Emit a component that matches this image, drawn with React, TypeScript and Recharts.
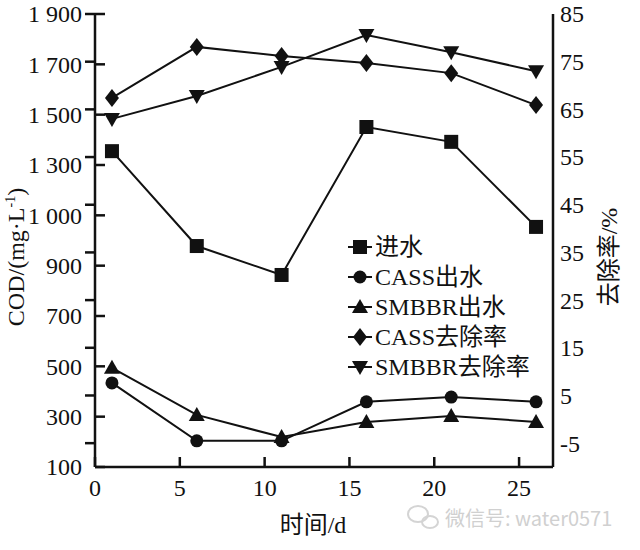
import { Legend, Line, LineChart, ReferenceLine, XAxis, YAxis } from 'recharts';

const days = [1, 6, 11, 16, 21, 26];
const influent = [1355, 978, 863, 1451, 1392, 1054];
const cassOut = [434, 204, 204, 359, 378, 359];
const smbbrOut = [494, 307, 219, 279, 303, 279];
const cassRemoval = [67.4, 78.1, 76.2, 74.7, 72.6, 65.9];
const smbbrRemoval = [63.0, 67.8, 73.9, 80.6, 77.0, 73.0];

const xTicks = [0, 5, 10, 15, 20, 25];
const leftTicks = [100, 300, 500, 700, 900, 1100, 1300, 1500, 1700, 1900];
const leftTickLabels = ['100', '300', '500', '700', '900', '1 000', '1 300', '1 500', '1 700', '1 900'];
const rightTicks = [-5, 5, 15, 25, 35, 45, 55, 65, 75, 85];

const FONT = '"Liberation Serif", "Times New Roman", "Noto Sans CJK SC", serif';
const INK = '#111';
const TICK = 10; // inward tick length

type Shape = 'square' | 'circle' | 'triangle' | 'diamond' | 'down';

const series: { key: string; name: string; shape: Shape; axis: 'left' | 'right' }[] = [
  { key: 'influent', name: '进水', shape: 'square', axis: 'left' },
  { key: 'cassOut', name: 'CASS出水', shape: 'circle', axis: 'left' },
  { key: 'smbbrOut', name: 'SMBBR出水', shape: 'triangle', axis: 'left' },
  { key: 'cassRemoval', name: 'CASS去除率', shape: 'diamond', axis: 'right' },
  { key: 'smbbrRemoval', name: 'SMBBR去除率', shape: 'down', axis: 'right' },
];

const data = days.map((day, i) => ({
  day,
  influent: influent[i],
  cassOut: cassOut[i],
  smbbrOut: smbbrOut[i],
  cassRemoval: cassRemoval[i],
  smbbrRemoval: smbbrRemoval[i],
}));

function Marker({ shape, cx, cy }: { shape: Shape; cx: number; cy: number }) {
  if (cx == null || cy == null) return null;
  switch (shape) {
    case 'square':
      return <rect x={cx - 7} y={cy - 7} width={14} height={14} fill={INK} />;
    case 'circle':
      return <circle cx={cx} cy={cy} r={6.5} fill={INK} />;
    case 'triangle':
      return <polygon points={`${cx},${cy - 8} ${cx + 8},${cy + 6} ${cx - 8},${cy + 6}`} fill={INK} />;
    case 'diamond':
      return <polygon points={`${cx},${cy - 9} ${cx + 7},${cy} ${cx},${cy + 9} ${cx - 7},${cy}`} fill={INK} />;
    default:
      return <polygon points={`${cx - 8},${cy - 6} ${cx + 8},${cy - 6} ${cx},${cy + 8}`} fill={INK} />;
  }
}

const LeftTick = ({ x, y, payload }: any) => {
  const i = leftTicks.indexOf(payload.value);
  return (
    <text x={x - 13} y={y} dy="0.35em" textAnchor="end" fontSize={24} fontFamily={FONT} fill={INK}>
      {leftTickLabels[i] ?? payload.value}
    </text>
  );
};

const RightTick = ({ x, y, payload }: any) => (
  <text x={x + 7} y={y} dy="0.35em" textAnchor="start" fontSize={24} fontFamily={FONT} fill={INK}>
    {payload.value}
  </text>
);

const BottomTick = ({ x, y, payload }: any) => (
  <text x={x} y={y + 21} dy="0.35em" textAnchor="middle" fontSize={24} fontFamily={FONT} fill={INK}>
    {payload.value}
  </text>
);

// inward tick marks, drawn from the reference line's own endpoints
const LeftMark = (p: any) => <line x1={p.x1} x2={p.x1 + TICK} y1={p.y1} y2={p.y1} stroke={INK} strokeWidth={2.5} />;
const RightMark = (p: any) => <line x1={p.x2} x2={p.x2 - TICK} y1={p.y2} y2={p.y2} stroke={INK} strokeWidth={2.5} />;
const BottomMark = (p: any) => {
  const yb = Math.max(p.y1, p.y2);
  return <line x1={p.x1} x2={p.x1} y1={yb} y2={yb - TICK} stroke={INK} strokeWidth={2.5} />;
};

const LegendBox = () => (
  <svg width={230} height={150}>
    {series.map((s, i) => {
      const y = 14 + i * 30;
      return (
        <g key={s.key}>
          <line x1={6} x2={30} y1={y} y2={y} stroke={INK} strokeWidth={2} />
          <Marker shape={s.shape} cx={18} cy={y} />
          <text x={33} y={y} dy="0.35em" fontSize={24} fontFamily={FONT} fill={INK}>
            {s.name}
          </text>
        </g>
      );
    })}
  </svg>
);

const axisLine = { stroke: INK, strokeWidth: 2.5 };

export default function App() {
  return (
    <div style={{ position: 'absolute', left: 0, top: 0, width: 640, height: 550, background: '#fff' }}>
      <LineChart width={640} height={550} data={data} margin={{ top: 14, right: 0, bottom: 0, left: 0 }}>
        <XAxis
          dataKey="day"
          type="number"
          domain={[0, 27]}
          ticks={xTicks}
          height={83}
          tickSize={0}
          tickMargin={0}
          tickLine={false}
          axisLine={axisLine}
          tick={<BottomTick />}
        />
        <YAxis
          yAxisId="left"
          orientation="left"
          domain={[100, 1900]}
          ticks={leftTicks}
          width={95}
          tickSize={0}
          tickMargin={0}
          tickLine={false}
          axisLine={axisLine}
          tick={<LeftTick />}
        />
        <YAxis
          yAxisId="right"
          orientation="right"
          domain={[-10, 85]}
          ticks={rightTicks}
          width={87}
          tickSize={0}
          tickMargin={0}
          tickLine={false}
          axisLine={axisLine}
          tick={<RightTick />}
        />
        {leftTicks.map((t) => (
          <ReferenceLine key={`l${t}`} yAxisId="left" y={t} shape={<LeftMark />} />
        ))}
        {rightTicks.map((t) => (
          <ReferenceLine key={`r${t}`} yAxisId="right" y={t} shape={<RightMark />} />
        ))}
        {xTicks.map((t) => (
          <ReferenceLine key={`x${t}`} yAxisId="left" x={t} shape={<BottomMark />} />
        ))}
        <Legend
          layout="vertical"
          align="center"
          verticalAlign="middle"
          wrapperStyle={{ left: 342, top: 233, width: 230 }}
          content={() => <LegendBox />}
        />
        {series.map((s) => (
          <Line
            key={s.key}
            yAxisId={s.axis}
            dataKey={s.key}
            name={s.name}
            stroke={INK}
            strokeWidth={2}
            isAnimationActive={false}
            dot={(p: any) => <Marker key={`${s.key}-${p.index}`} shape={s.shape} cx={p.cx} cy={p.cy} />}
            activeDot={false}
          />
        ))}
      </LineChart>
      <svg width={640} height={550} style={{ position: 'absolute', left: 0, top: 0, pointerEvents: 'none' }}>
        <text
          transform="translate(16,257) rotate(-90)"
          textAnchor="middle"
          dy="0.35em"
          fontSize={24}
          fontFamily={FONT}
          fill={INK}
        >
          COD/(mg·L<tspan dy={-9} fontSize={14}>-1</tspan>
          <tspan dy={9}>)</tspan>
        </text>
        <text
          transform="translate(609,257) rotate(-90)"
          textAnchor="middle"
          dy="0.35em"
          fontSize={24}
          fontFamily={FONT}
          fill={INK}
        >
          去除率/%
        </text>
        <text x={313} y={525} dy="0.35em" textAnchor="middle" fontSize={24} fontFamily={FONT} fill={INK}>
          时间/d
        </text>
        <g fill="none" stroke="#d4d4d4" strokeWidth={2}>
          <ellipse cx={418} cy={514} rx={10} ry={8} />
          <ellipse cx={430} cy={522} rx={8} ry={6} />
        </g>
        <text x={445} y={519} dy="0.35em" fontSize={20} fontFamily='"Noto Sans CJK SC", sans-serif' fill="#d0d0d0">
          微信号: water0571
        </text>
      </svg>
    </div>
  );
}
